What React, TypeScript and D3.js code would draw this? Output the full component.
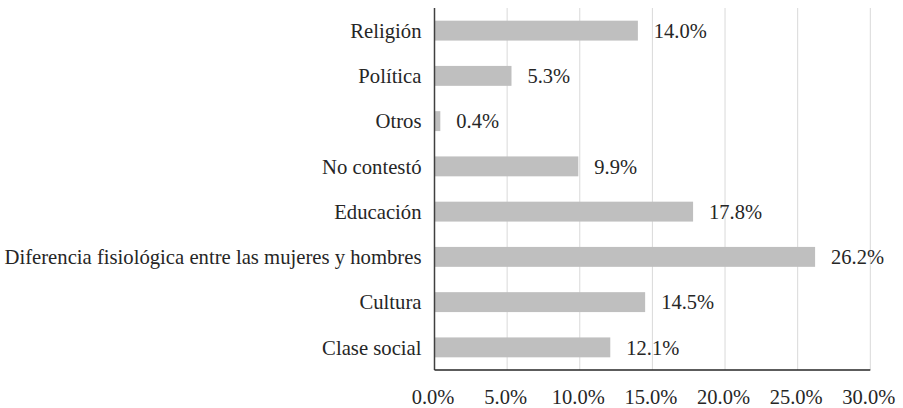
import React from "react";
import * as d3 from "d3";

const categories = [
  "Religión",
  "Política",
  "Otros",
  "No contestó",
  "Educación",
  "Diferencia fisiológica entre las mujeres y hombres",
  "Cultura",
  "Clase social",
];
const values = [14.0, 5.3, 0.4, 9.9, 17.8, 26.2, 14.5, 12.1];
const ticks = [0, 5, 10, 15, 20, 25, 30];

const W = 903;
const H = 408;
const left = 434.5;
const right = 870.3;
const top = 8;
const bottom = 370;
const font = "'Liberation Serif', 'Times New Roman', serif";
const fs = 20.5;
const catFs = 20.7;

export default function App() {
  const x = d3.scaleLinear().domain([0, 30]).range([left, right]);
  const y = d3.scaleBand<string>().domain(categories).range([top, bottom]).paddingInner(0.56).paddingOuter(0.28);
  return (
    <svg width={W} height={H} style={{ position: "absolute", left: 0, top: 0 }}>
      <rect width={W} height={H} fill="#fff" />
      {ticks.slice(1).map((t) => (
        <line key={t} x1={x(t)} x2={x(t)} y1={top} y2={bottom} stroke="#d9d9d9" strokeWidth={1} />
      ))}
      {categories.map((c, i) => (
        <g key={c}>
          <rect x={x(0)} y={y(c)!} width={x(values[i]) - x(0)} height={y.bandwidth()} fill="#bfbfbf" />
          <text x={x(values[i]) + 16} y={y(c)! + y.bandwidth() / 2} dy="0.35em" fontFamily={font} fontSize={fs} fill="#262626">
            {values[i].toFixed(1)}%
          </text>
          <text x={left - 13} y={y(c)! + y.bandwidth() / 2} dy="0.35em" textAnchor="end" fontFamily={font} fontSize={catFs} fill="#262626">
            {c}
          </text>
        </g>
      ))}
      <line x1={left} x2={left} y1={top} y2={bottom} stroke="#404040" strokeWidth={1.5} />
      <line x1={left} x2={right} y1={bottom} y2={bottom} stroke="#262626" strokeWidth={1.5} />
      {ticks.map((t) => (
        <text key={t} x={x(t) - 1.5} y={404} textAnchor="middle" fontFamily={font} fontSize={fs} fill="#262626">
          {t.toFixed(1)}%
        </text>
      ))}
    </svg>
  );
}
